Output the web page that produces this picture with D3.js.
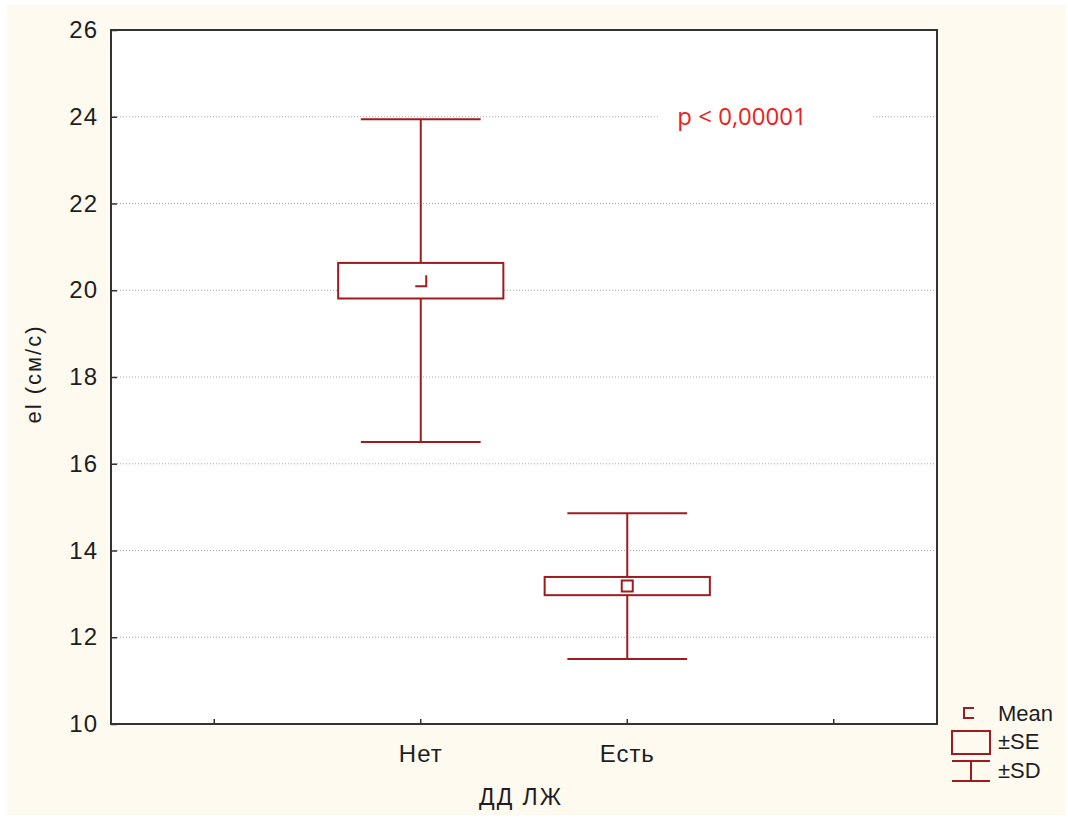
<!DOCTYPE html>
<html>
<head>
<meta charset="utf-8">
<script src="https://cdn.jsdelivr.net/npm/d3@7"></script>
<style>
  html, body { margin: 0; padding: 0; background: #ffffff; }
  svg { display: block; }
  text { font-family: "Liberation Sans", Arial, sans-serif; }
</style>
</head>
<body>
<svg id="chart" width="1068" height="818"></svg>
<script>
// Group labels and descriptive statistics (el, cm/s)
const categories = ["Нет", "Есть"];
const means = [20.22, 13.18];
const stdErrors = [0.41, 0.21];
const stdDevs = [3.72, 1.68];
const yTicks = [10, 12, 14, 16, 18, 20, 22, 24, 26];
const slots = ["", "Нет", "Есть", " "];
const legendItems = ["Mean", "±SE", "±SD"];
const pLabel = "p < 0,00001";
const xTitle = "ДД ЛЖ";
const yTitle = "el (см/с)";

const W = 1068, H = 818;
const plot = { left: 111, right: 937, top: 30, bottom: 724 };
const RED = "#9e1b20";
const FRAME = "#333333";
const INK = "#1e1e1e";

const svg = d3.select("#chart");

// page and panel backgrounds
svg.append("rect").attr("x", 0).attr("y", 0).attr("width", W).attr("height", H).attr("fill", "#ffffff");
svg.append("rect").attr("x", 7).attr("y", 5).attr("width", W - 9).attr("height", H - 8).attr("fill", "#fffaf0");
svg.append("rect")
  .attr("x", plot.left).attr("y", plot.top)
  .attr("width", plot.right - plot.left).attr("height", plot.bottom - plot.top)
  .attr("fill", "#ffffff");

const x = d3.scaleBand().domain(slots).range([plot.left, plot.right]).paddingInner(0).paddingOuter(0);
const y = d3.scaleLinear().domain([10, 26]).range([plot.bottom, plot.top]);
const cx = c => x(c) + x.bandwidth() / 2;

// horizontal dotted grid
svg.append("g").selectAll("line")
  .data(yTicks.filter(t => t > 10 && t < 26))
  .join("line")
  .attr("x1", plot.left).attr("x2", plot.right)
  .attr("y1", d => y(d)).attr("y2", d => y(d))
  .attr("stroke", "#a8a8a8").attr("stroke-width", 1)
  .attr("stroke-dasharray", "1,2");

// label for the group comparison, on a white patch over the grid
const pX = 742, pY = y(24);
svg.append("rect").attr("x", pX - 84).attr("y", pY - 14).attr("width", 215).attr("height", 28).attr("fill", "#ffffff");
svg.append("text")
  .attr("x", pX).attr("y", pY + 8)
  .attr("text-anchor", "middle")
  .style("font-family", "'Open Sans', sans-serif")
  .style("font-size", "24px")
  .attr("fill", "#f01c1c")
  .text(pLabel);

// axes
const yAxis = d3.axisLeft(y).tickValues(yTicks).tickSizeInner(-6).tickSizeOuter(0).tickPadding(13);
const gy = svg.append("g").attr("transform", `translate(${plot.left},0)`).call(yAxis);
gy.select(".domain").remove();
gy.selectAll(".tick line").attr("stroke", FRAME).attr("stroke-width", 1.5);
gy.selectAll(".tick text").style("font-size", "24px").attr("fill", INK)
  .style("letter-spacing", "1px")
  .style("font-family", "'Liberation Sans', Arial, sans-serif");

const xAxis = d3.axisBottom(x).tickSizeInner(-5).tickSizeOuter(0).tickPadding(21).tickFormat(d => d.trim());
const gx = svg.append("g").attr("transform", `translate(0,${plot.bottom})`).call(xAxis);
gx.select(".domain").remove();
gx.selectAll(".tick line").attr("stroke", FRAME).attr("stroke-width", 1.5);
gx.selectAll(".tick text").style("font-size", "24px").attr("fill", INK)
  .style("letter-spacing", "1px")
  .style("font-family", "'Liberation Sans', Arial, sans-serif");

// frame
svg.append("rect")
  .attr("x", plot.left).attr("y", plot.top)
  .attr("width", plot.right - plot.left).attr("height", plot.bottom - plot.top)
  .attr("fill", "none").attr("stroke", FRAME).attr("stroke-width", 2);

// axis titles
svg.append("text")
  .attr("x", (plot.left + plot.right) / 2 - 3).attr("y", 805)
  .attr("text-anchor", "middle").style("font-size", "23px").attr("fill", INK)
  .style("letter-spacing", "2px")
  .text(xTitle);
svg.append("text")
  .attr("transform", `translate(41,${(plot.top + plot.bottom) / 2 - 3}) rotate(-90)`)
  .attr("text-anchor", "middle").style("font-size", "22px").attr("fill", INK)
  .style("letter-spacing", "2px")
  .text(yTitle);

// whisker-box marks
const boxW = x.bandwidth() * 0.8;
const capW = x.bandwidth() * 0.58;
const groups = svg.append("g").selectAll("g")
  .data(categories.map((c, i) => ({ c, i, m: means[i], se: stdErrors[i], sd: stdDevs[i] })))
  .join("g");

groups.append("line")
  .attr("x1", d => cx(d.c)).attr("x2", d => cx(d.c))
  .attr("y1", d => y(d.m + d.sd)).attr("y2", d => y(d.m - d.sd))
  .attr("stroke", RED).attr("stroke-width", 2);
groups.append("line")
  .attr("x1", d => cx(d.c) - capW / 2).attr("x2", d => cx(d.c) + capW / 2)
  .attr("y1", d => y(d.m + d.sd)).attr("y2", d => y(d.m + d.sd))
  .attr("stroke", RED).attr("stroke-width", 2);
groups.append("line")
  .attr("x1", d => cx(d.c) - capW / 2).attr("x2", d => cx(d.c) + capW / 2)
  .attr("y1", d => y(d.m - d.sd)).attr("y2", d => y(d.m - d.sd))
  .attr("stroke", RED).attr("stroke-width", 2);
groups.append("rect")
  .attr("x", d => cx(d.c) - boxW / 2).attr("width", boxW)
  .attr("y", d => y(d.m + d.se)).attr("height", d => y(d.m - d.se) - y(d.m + d.se))
  .attr("fill", "#ffffff").attr("stroke", RED).attr("stroke-width", 2);

// mean markers
const mk = 11;
groups.append("path")
  .attr("d", d => {
    const px = cx(d.c), py = y(d.m);
    const l = px - mk / 2, r = px + mk / 2, t = py - mk / 2, b = py + mk / 2;
    return d.i === 0
      ? `M${l},${b}L${r},${b}L${r},${t}`
      : `M${l},${t}L${r},${t}L${r},${b}L${l},${b}Z`;
  })
  .attr("fill", "none").attr("stroke", RED).attr("stroke-width", 2);

// legend
const lg = svg.append("g");
const lx = 971;
lg.append("path")
  .attr("d", `M${lx + 3},708L${lx - 7},708L${lx - 7},718L${lx + 3},718`)
  .attr("fill", "none").attr("stroke", RED).attr("stroke-width", 2);
lg.append("rect").attr("x", lx - 19).attr("y", 731).attr("width", 38).attr("height", 23)
  .attr("fill", "none").attr("stroke", RED).attr("stroke-width", 2);
lg.append("line").attr("x1", lx - 19).attr("x2", lx + 19).attr("y1", 761).attr("y2", 761).attr("stroke", RED).attr("stroke-width", 2);
lg.append("line").attr("x1", lx - 19).attr("x2", lx + 19).attr("y1", 781).attr("y2", 781).attr("stroke", RED).attr("stroke-width", 2);
lg.append("line").attr("x1", lx).attr("x2", lx).attr("y1", 761).attr("y2", 781).attr("stroke", RED).attr("stroke-width", 2);
lg.selectAll("text")
  .data(legendItems)
  .join("text")
  .attr("x", 998)
  .attr("y", (d, i) => [721, 749, 778][i])
  .style("font-size", "22px").attr("fill", INK)
  .text(d => d);
</script>
</body>
</html>
